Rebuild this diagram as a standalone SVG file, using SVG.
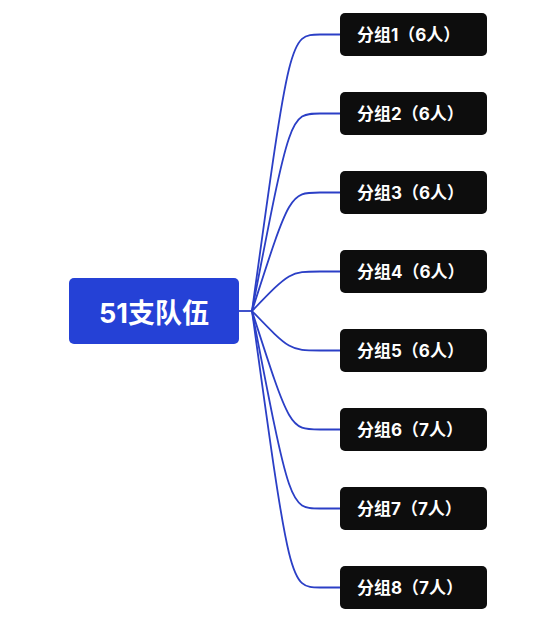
<svg xmlns="http://www.w3.org/2000/svg" width="539" height="638" viewBox="0 0 539 638">
<style>
.conn{fill:none;stroke:#2b3fc6;stroke-width:1.8}
.child rect{fill:#0d0d0d}
.child text{fill:#ffffff;font-family:Inter,"Noto Sans CJK SC",sans-serif;font-weight:bold;font-size:17px}
.root text{fill:#ffffff;font-family:Inter,"Noto Sans CJK SC",sans-serif;font-weight:bold;font-size:27px}
</style>
<rect width="539" height="638" fill="#ffffff"/>
<g id="connectors">
<path class="conn" d="M239,311 L252,311"/>
<path class="conn" d="M252,311 C290,34.5 290,34.5 320,34.5 L340,34.5"/>
<path class="conn" d="M252,311 C290,113.5 290,113.5 320,113.5 L340,113.5"/>
<path class="conn" d="M252,311 C290,192.5 290,192.5 320,192.5 L340,192.5"/>
<path class="conn" d="M252,311 C290,271.5 290,271.5 320,271.5 L340,271.5"/>
<path class="conn" d="M252,311 C290,350.5 290,350.5 320,350.5 L340,350.5"/>
<path class="conn" d="M252,311 C290,429.5 290,429.5 320,429.5 L340,429.5"/>
<path class="conn" d="M252,311 C290,508.5 290,508.5 320,508.5 L340,508.5"/>
<path class="conn" d="M252,311 C290,587.5 290,587.5 320,587.5 L340,587.5"/>
</g>
<g id="root" class="root">
<rect x="69" y="278" width="170" height="66" rx="5" fill="#2541d6"/>
<text x="154" y="323" text-anchor="middle">51支队伍</text>
</g>
<g id="n1" class="child"><rect x="340" y="13" width="147" height="43" rx="5"/><text x="357" y="41">分组1（6人）</text></g>
<g id="n2" class="child"><rect x="340" y="92" width="147" height="43" rx="5"/><text x="357" y="120">分组2（6人）</text></g>
<g id="n3" class="child"><rect x="340" y="171" width="147" height="43" rx="5"/><text x="357" y="199">分组3（6人）</text></g>
<g id="n4" class="child"><rect x="340" y="250" width="147" height="43" rx="5"/><text x="357" y="278">分组4（6人）</text></g>
<g id="n5" class="child"><rect x="340" y="329" width="147" height="43" rx="5"/><text x="357" y="357">分组5（6人）</text></g>
<g id="n6" class="child"><rect x="340" y="408" width="147" height="43" rx="5"/><text x="357" y="436">分组6（7人）</text></g>
<g id="n7" class="child"><rect x="340" y="487" width="147" height="43" rx="5"/><text x="357" y="515">分组7（7人）</text></g>
<g id="n8" class="child"><rect x="340" y="566" width="147" height="43" rx="5"/><text x="357" y="594">分组8（7人）</text></g>
</svg>
